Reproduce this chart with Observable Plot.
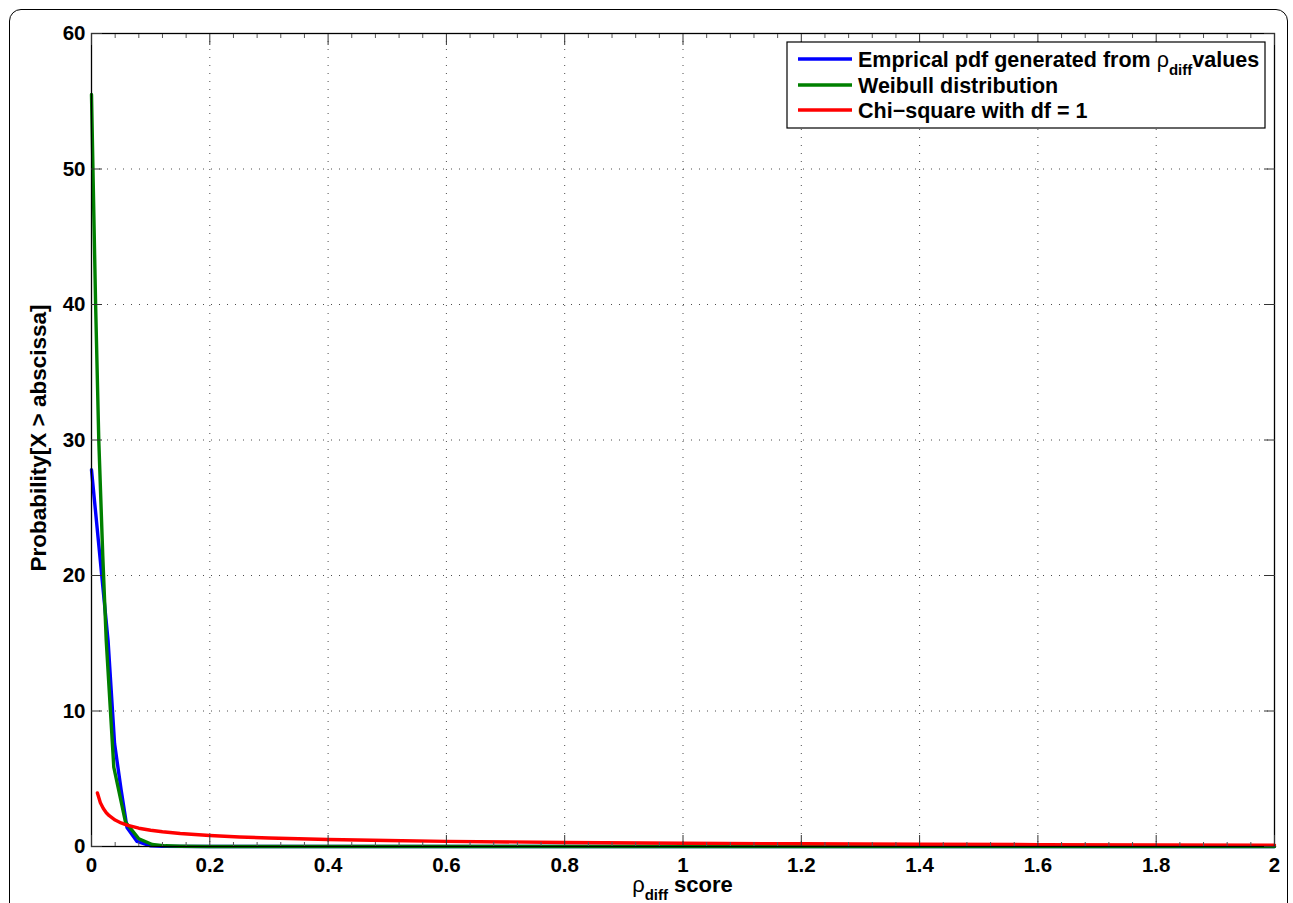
<!DOCTYPE html>
<html>
<head>
<meta charset="utf-8">
<script src="https://cdn.jsdelivr.net/npm/d3@7"></script>
<script src="https://cdn.jsdelivr.net/npm/@observablehq/plot@0.6"></script>
<style>
  html, body { margin: 0; padding: 0; background: #fff; overflow: hidden; width: 1293px; height: 903px; }
  #wrap { position: relative; width: 1293px; height: 903px; }
  #border { position: absolute; left: 9px; top: 9px; width: 1279px; height: 1000px; border: 1.5px solid #000; border-radius: 12px; box-sizing: border-box; }
  #chart { position: absolute; left: 0; top: 0; }
</style>
</head>
<body>
<div id="wrap"><div id="border"></div><div id="chart"></div></div>
<script>
// ---- data ----
const xTicks = [0, 0.2, 0.4, 0.6, 0.8, 1, 1.2, 1.4, 1.6, 1.8, 2];
const xTickLabels = ["0", "0.2", "0.4", "0.6", "0.8", "1", "1.2", "1.4", "1.6", "1.8", "2"];
const xMinorTicks = [0.04, 0.08, 0.12, 0.16, 0.24, 0.28, 0.32, 0.36, 0.44, 0.48, 0.52, 0.56, 0.64, 0.68, 0.72, 0.76, 0.84, 0.88, 0.92, 0.96, 1.04, 1.08, 1.12, 1.16, 1.24, 1.28, 1.32, 1.36, 1.44, 1.48, 1.52, 1.56, 1.64, 1.68, 1.72, 1.76, 1.84, 1.88, 1.92, 1.96];
const yTicks = [0, 10, 20, 30, 40, 50, 60];
const yTickLabels = ["0", "10", "20", "30", "40", "50", "60"];

const seriesNames = ["Emprical pdf generated from", "Weibull distribution", "Chi\u2212square with df = 1"];
const seriesColors = ["#0000ff", "#008000", "#ff0000"];

// Empirical pdf (blue)
const empX = [0, 0.028, 0.039, 0.05, 0.06, 0.077, 0.1, 0.12, 0.2, 0.5, 1, 1.5, 2];
const empY = [27.8, 15.2, 7.6, 4.2, 1.4, 0.37, 0.05, 0.01, 0, 0, 0, 0, 0];

// Weibull (green)
const weiX = [0, 0.0068, 0.0123, 0.019, 0.0249, 0.0377, 0.0575, 0.08, 0.1026, 0.125, 0.15, 0.2, 0.5, 1, 1.5, 2];
const weiY = [55.5, 40.3, 30, 21.5, 15.2, 5.85, 1.8, 0.57, 0.15, 0.05, 0.02, 0.005, 0, 0, 0, 0];

// Chi-square df = 1 (red)
const chiX = [0.01, 0.015, 0.02, 0.025, 0.03, 0.04, 0.05, 0.06, 0.07, 0.08, 0.1, 0.12, 0.15, 0.2, 0.25, 0.3, 0.4, 0.5, 0.6, 0.8, 1.0, 1.2, 1.4, 1.6, 1.8, 2.0];
const chiY = [3.95, 3.23, 2.8, 2.49, 2.27, 1.95, 1.74, 1.58, 1.46, 1.35, 1.2, 1.09, 0.96, 0.81, 0.70, 0.63, 0.52, 0.44, 0.38, 0.30, 0.24, 0.20, 0.167, 0.142, 0.121, 0.104];

// ---- build tables ----
const emp = empX.map((x, i) => ({x, y: empY[i]}));
const wei = weiX.map((x, i) => ({x, y: weiY[i]}));
const chi = chiX.map((x, i) => ({x, y: chiY[i]}));
const xLab = new Map(xTicks.map((d, i) => [d, xTickLabels[i]]));
const yLab = new Map(yTicks.map((d, i) => [d, yTickLabels[i]]));

const FONT = '"Liberation Sans", Arial, Helvetica, sans-serif';
const gridStyle = {stroke: "#000", strokeOpacity: 0.7, strokeDasharray: "1,7", strokeWidth: 1};

const chart = Plot.plot({
  width: 1293,
  height: 903,
  marginLeft: 91,
  marginRight: 19,
  marginTop: 33,
  marginBottom: 57,
  x: {domain: [0, 2]},
  y: {domain: [0, 60]},
  style: {fontFamily: FONT, fontSize: "20.5px", fontWeight: "bold", color: "#000", background: "transparent", overflow: "visible"},
  marks: [
    Plot.gridX(xTicks.slice(1, -1), gridStyle),
    Plot.gridY(yTicks.slice(1, -1), gridStyle),
    Plot.line(emp, {x: "x", y: "y", stroke: seriesColors[0], strokeWidth: 3.4}),
    Plot.line(wei, {x: "x", y: "y", stroke: seriesColors[1], strokeWidth: 3.4}),
    Plot.line(chi, {x: "x", y: "y", stroke: seriesColors[2], strokeWidth: 3.4}),
    Plot.frame({stroke: "#000", strokeWidth: 1.3}),
    // labelled axes
    Plot.axisX(xTicks, {anchor: "bottom", tickSize: 0, tickPadding: 11, tickFormat: d => xLab.get(d), label: null}),
    Plot.axisY(yTicks, {anchor: "left", tickSize: 0, tickPadding: 6, tickFormat: d => yLab.get(d), label: null}),
    // inward major ticks on all sides
    Plot.axisX(xTicks, {anchor: "bottom", tickSize: -11, tickFormat: () => "", label: null, stroke: "#333"}),
    Plot.axisX(xTicks, {anchor: "top", tickSize: -11, tickFormat: () => "", label: null, stroke: "#333"}),
    Plot.axisY(yTicks, {anchor: "left", tickSize: -11, tickFormat: () => "", label: null, stroke: "#333"}),
    Plot.axisY(yTicks, {anchor: "right", tickSize: -11, tickFormat: () => "", label: null, stroke: "#333"}),
    // minor ticks
    Plot.axisX(xMinorTicks, {anchor: "bottom", tickSize: -4, tickFormat: () => "", label: null, stroke: "#555"}),
    Plot.axisX(xMinorTicks, {anchor: "top", tickSize: -4, tickFormat: () => "", label: null, stroke: "#555"})
  ]
});
document.getElementById("chart").appendChild(chart);

// ---- labels & legend added into the SVG ----
const svg = d3.select(chart);

// y-axis title
svg.append("text")
  .attr("transform", "translate(38,438) rotate(-90)")
  .attr("text-anchor", "middle")
  .attr("dominant-baseline", "central")
  .style("font-family", FONT).style("font-size", "22.5px").style("font-weight", "bold")
  .text("Probability[X > abscissa]");

// x-axis title with subscript
const xt = svg.append("text")
  .attr("x", 682.5).attr("y", 892)
  .attr("text-anchor", "middle")
  .style("font-family", FONT).style("font-size", "22px").style("font-weight", "bold");
xt.append("tspan").style("font-weight", "normal").text("\u03c1");
xt.append("tspan").attr("dy", 8).style("font-size", "15px").text("diff");
xt.append("tspan").attr("dy", -8).text(" score");

// legend
const lg = svg.append("g");
lg.append("rect").attr("x", 787).attr("y", 42).attr("width", 478).attr("height", 86)
  .attr("fill", "#fff").attr("stroke", "#000").attr("stroke-width", 1.2);
const rowY = [59, 85, 110];
seriesNames.forEach((name, i) => {
  lg.append("line").attr("x1", 798).attr("x2", 852).attr("y1", rowY[i]).attr("y2", rowY[i])
    .attr("stroke", seriesColors[i]).attr("stroke-width", 3.4);
  const t = lg.append("text").attr("x", 858).attr("y", rowY[i]).attr("dy", "0.35em")
    .attr("text-anchor", "start")
    .style("font-family", FONT).style("font-size", "21.5px").style("font-weight", "bold");
  t.append("tspan").text(name);
  if (i === 0) {
    t.append("tspan").style("font-weight", "normal").text(" \u03c1");
    t.append("tspan").attr("dy", 8).style("font-size", "15px").text("diff");
    t.append("tspan").attr("dy", -8).text("values");
  }
});
</script>
</body>
</html>
